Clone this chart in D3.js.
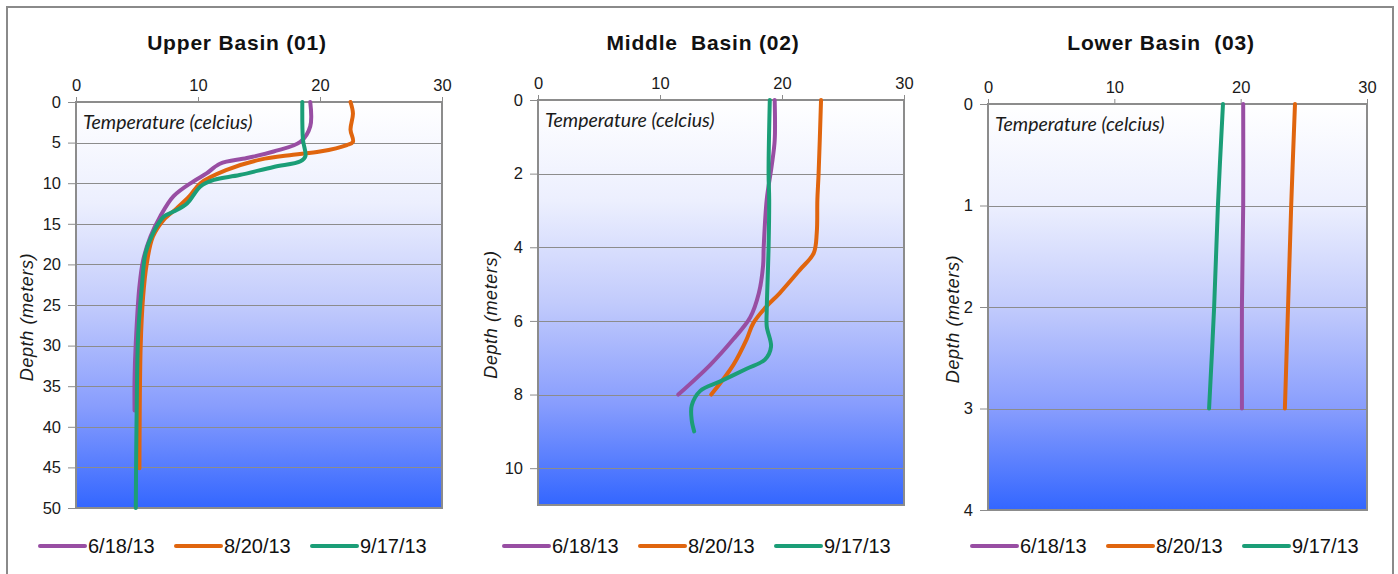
<!DOCTYPE html>
<html>
<head>
<meta charset="utf-8">
<script src="https://cdn.jsdelivr.net/npm/d3@7"></script>
<style>
  html, body { margin: 0; padding: 0; background: #ffffff; }
  svg { display: block; }
</style>
</head>
<body>
<svg id="chart" width="1398" height="574"></svg>
<script>
// Sampling dates (legend)
const dates = ["6/18/13", "8/20/13", "9/17/13"];
const dateColors = ["#984ea3", "#e0650e", "#1b9e77"];

// Panel titles and depth axis settings
const titles = ["Upper Basin (01)", "Middle  Basin (02)", "Lower Basin  (03)"];
const tempTicks = [0, 10, 20, 30];
const depthMax = [50, 11, 4];
const depthTicks1 = [0, 5, 10, 15, 20, 25, 30, 35, 40, 45, 50];
const depthTicks2 = [0, 2, 4, 6, 8, 10];
const depthTicks3 = [0, 1, 2, 3, 4];

// Upper Basin (01) profiles: depth (m) and temperature (°C)
const upperDepth0618 = [0, 3.0, 4.9, 6.1, 6.9, 7.6, 8.8, 9.8, 11.6, 14.1, 16.6, 19.5, 22.7, 29.7, 34.2, 38];
const upperTemp0618  = [19.2, 19.2, 18.4, 16.2, 14.0, 11.8, 10.7, 9.6, 8.0, 6.9, 6.1, 5.5, 5.2, 4.9, 4.8, 4.8];
const upperDepth0820 = [0, 1.4, 3.4, 4.9, 5.3, 6.1, 6.5, 7.1, 8.4, 10.0, 11.6, 13.1, 14.5, 16.6, 19.9, 24.0, 30.1, 45.1];
const upperTemp0820  = [22.5, 22.7, 22.5, 22.7, 22.2, 20.0, 17.8, 15.1, 12.3, 10.2, 9.3, 8.25, 7.2, 6.3, 5.8, 5.5, 5.3, 5.2];
const upperDepth0917 = [0, 4.6, 6.7, 7.3, 8.0, 9.0, 9.6, 10.4, 12.5, 13.5, 14.1, 16.2, 18.6, 22.7, 28.5, 38.3, 50];
const upperTemp0917  = [18.55, 18.6, 18.8, 18.4, 16.2, 13.4, 11.3, 10.2, 9.1, 8.0, 7.2, 6.3, 5.7, 5.4, 5.1, 4.97, 4.9];

// Middle Basin (02) profiles
const middleDepth0618 = [0, 1.1, 1.8, 2.7, 4.0, 4.5, 5.25, 5.9, 6.5, 7.2, 8.0];
const middleTemp0618  = [19.4, 19.4, 19.15, 18.75, 18.5, 18.45, 18.1, 17.4, 16.0, 14.1, 11.5];
const middleDepth0820 = [0, 2.0, 2.7, 3.6, 4.16, 4.6, 5.25, 5.6, 6.06, 6.5, 7.2, 8.0];
const middleTemp0820  = [23.2, 23.0, 22.9, 22.85, 22.6, 21.5, 19.8, 18.75, 17.65, 17.1, 16.0, 14.2];
const middleDepth0917 = [0, 2.0, 2.7, 4.0, 5.7, 6.15, 6.7, 7.05, 7.3, 7.65, 7.9, 8.3, 8.7, 9.0];
const middleTemp0917  = [19.0, 18.9, 18.95, 18.9, 18.75, 18.75, 19.1, 18.6, 17.1, 14.9, 13.3, 12.6, 12.6, 12.8];

// Lower Basin (03) profiles
const lowerDepth = [0, 1, 2, 3];
const lowerTemp0618 = [20.2, 20.2, 20.1, 20.1];
const lowerTemp0820 = [24.3, 24.0, 23.75, 23.5];
const lowerTemp0917 = [18.6, 18.2, 17.9, 17.5];

// Panel layout (plot rectangles) and label placement
const panels = [
  { title: titles[0], depthMax: depthMax[0], depthTicks: depthTicks1,
    box: { x0: 76, x1: 442, y0: 102, y1: 508 }, titleX: 237, depthLabelX: 27, legendX: 40,
    series: [ [upperDepth0618, upperTemp0618], [upperDepth0820, upperTemp0820], [upperDepth0917, upperTemp0917] ] },
  { title: titles[1], depthMax: depthMax[1], depthTicks: depthTicks2,
    box: { x0: 538, x1: 904, y0: 100, y1: 505 }, titleX: 703, depthLabelX: 491, legendX: 504,
    series: [ [middleDepth0618, middleTemp0618], [middleDepth0820, middleTemp0820], [middleDepth0917, middleTemp0917] ] },
  { title: titles[2], depthMax: depthMax[2], depthTicks: depthTicks3,
    box: { x0: 988, x1: 1367, y0: 104, y1: 510 }, titleX: 1161, depthLabelX: 953, legendX: 972,
    series: [ [lowerDepth, lowerTemp0618], [lowerDepth, lowerTemp0820], [lowerDepth, lowerTemp0917] ] }
];

const svg = d3.select("#chart");
const defs = svg.append("defs");

// Water-column shading: pale at the surface, deep blue at the bottom
const grad = defs.append("linearGradient")
  .attr("id", "water").attr("x1", 0).attr("y1", 0).attr("x2", 0).attr("y2", 1);
[["0%", "#ffffff"], ["25%", "#eceffe"], ["50%", "#c2cbfc"], ["75%", "#889dfd"], ["100%", "#3366ff"]]
  .forEach(([o, c]) => grad.append("stop").attr("offset", o).attr("stop-color", c));

// Outer frame
svg.append("rect")
  .attr("x", 7).attr("y", 7).attr("width", 1386).attr("height", 580)
  .attr("fill", "none").attr("stroke", "#8a8a8a").attr("stroke-width", 2);

const gridColor = "#8c8c8c";
const font = "'Liberation Sans', Arial, sans-serif";

panels.forEach(p => {
  const b = p.box;
  const x = d3.scaleLinear().domain([0, 30]).range([b.x0, b.x1]);
  const y = d3.scaleLinear().domain([0, p.depthMax]).range([b.y0, b.y1]);
  const g = svg.append("g");

  // Plot background
  g.append("rect")
    .attr("x", b.x0).attr("y", b.y0)
    .attr("width", b.x1 - b.x0).attr("height", b.y1 - b.y0)
    .attr("fill", "url(#water)");

  // Horizontal gridlines
  g.append("g").selectAll("line")
    .data(p.depthTicks.filter(t => t > 0 && t < p.depthMax))
    .join("line")
    .attr("x1", b.x0).attr("x2", b.x1)
    .attr("y1", d => Math.round(y(d)) + 0.5).attr("y2", d => Math.round(y(d)) + 0.5)
    .attr("stroke", gridColor).attr("stroke-width", 1);

  // Depth axis (left)
  const yAxis = g.append("g")
    .attr("transform", `translate(${b.x0},0)`)
    .call(d3.axisLeft(y).tickValues(p.depthTicks).tickSize(8).tickPadding(7).tickFormat(d3.format("d")));
  yAxis.select(".domain").remove();
  yAxis.selectAll(".tick line").attr("stroke", gridColor);
  yAxis.selectAll(".tick text").attr("font-family", font).attr("font-size", 16.5).attr("fill", "#1a1a1a");

  // Temperature axis (top)
  const xAxis = g.append("g")
    .attr("transform", `translate(0,${b.y0})`)
    .call(d3.axisTop(x).tickValues(tempTicks).tickSize(5).tickPadding(6));
  xAxis.select(".domain").remove();
  xAxis.selectAll(".tick line").attr("stroke", gridColor);
  xAxis.selectAll(".tick text").attr("font-family", font).attr("font-size", 16.5).attr("fill", "#1a1a1a");

  // Plot frame
  g.append("rect")
    .attr("x", b.x0).attr("y", b.y0)
    .attr("width", b.x1 - b.x0).attr("height", b.y1 - b.y0)
    .attr("fill", "none").attr("stroke", gridColor).attr("stroke-width", 2);

  // Temperature profiles (smoothed lines)
  const line = d3.line()
    .x(d => x(d.t)).y(d => y(d.d))
    .curve(d3.curveCatmullRom.alpha(0.5));
  p.series.forEach(([depths, temps], i) => {
    const pts = depths.map((dv, k) => ({ d: dv, t: temps[k] }));
    g.append("path")
      .datum(pts)
      .attr("d", line)
      .attr("fill", "none")
      .attr("stroke", dateColors[i])
      .attr("stroke-width", 4)
      .attr("stroke-linejoin", "round")
      .attr("stroke-linecap", "round");
  });

  // In-plot axis caption
  g.append("text")
    .attr("x", b.x0 + 7).attr("y", b.y0 + 27)
    .attr("font-family", "Lato, 'Open Sans', sans-serif")
    .attr("font-style", "italic").attr("font-size", 19.5).attr("fill", "#1a1a1a")
    .text("Temperature (celcius)");

  // Depth axis title
  g.append("text")
    .attr("transform", `translate(${p.depthLabelX + 6},${(b.y0 + b.y1) / 2 + 12}) rotate(-90)`)
    .attr("text-anchor", "middle")
    .attr("font-family", font).attr("font-style", "italic").attr("font-size", 18)
    .attr("letter-spacing", 0.6).attr("fill", "#1a1a1a")
    .text("Depth (meters)");

  // Panel title
  g.append("text")
    .attr("x", p.titleX).attr("y", 50)
    .attr("text-anchor", "middle")
    .attr("font-family", font).attr("font-weight", "bold").attr("font-size", 21)
    .attr("letter-spacing", 0.8)
    .style("white-space", "pre")
    .attr("fill", "#111")
    .text(p.title);

  // Legend
  const lg = g.append("g").attr("transform", `translate(${p.legendX},0)`);
  dates.forEach((dt, i) => {
    const ox = i * 136;
    lg.append("line")
      .attr("x1", ox).attr("x2", ox + 45)
      .attr("y1", 546).attr("y2", 546)
      .attr("stroke", dateColors[i]).attr("stroke-width", 4).attr("stroke-linecap", "round");
    lg.append("text")
      .attr("x", ox + 48).attr("y", 553)
      .attr("font-family", font).attr("font-size", 20).attr("fill", "#111")
      .text(dt);
  });
});
</script>
</body>
</html>
